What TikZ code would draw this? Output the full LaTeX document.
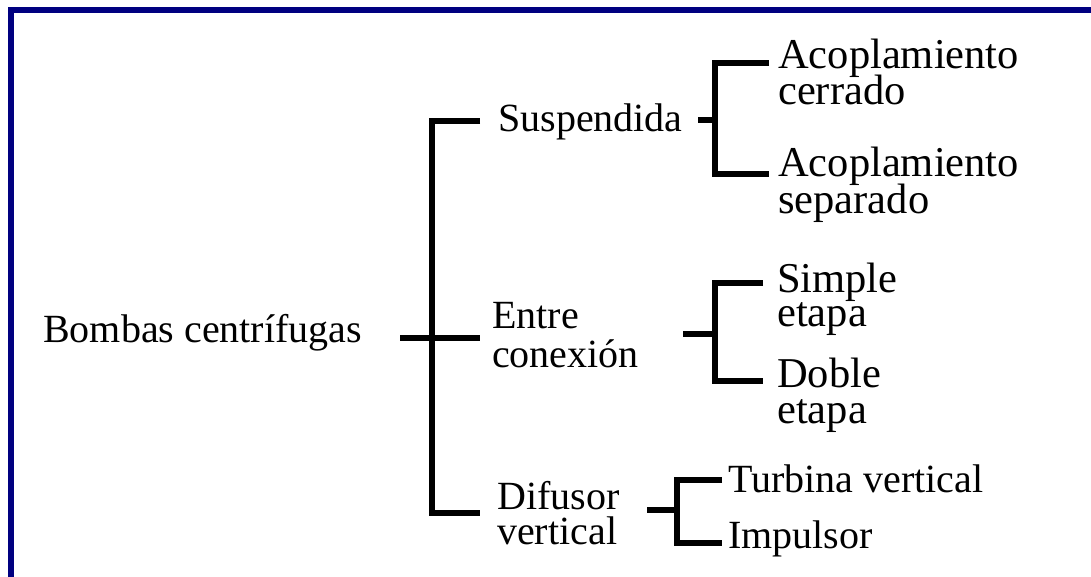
\documentclass[tikz,border=0pt]{standalone}
\usepackage{fontspec}
\setmainfont{Liberation Serif}
\definecolor{navyblue}{RGB}{0,0,128}
\newcommand\twoline[3]{\vtop{\baselineskip=#1pt\lineskiplimit=-100pt\hbox{#2}\hbox{#3}}}
\begin{document}
\begin{tikzpicture}[x=1pt,y=-1pt,
  lbl/.style={anchor=base west, inner sep=0pt, font=\fontsize{40}{40}\selectfont},
  lblb/.style={lbl, font=\fontsize{42.5}{42.5}\selectfont},
  br/.style={line width=5.5pt, line join=miter, black}]
\useasboundingbox (0,0) rectangle (1091,577);
\fill[navyblue] (8,7) rectangle (14,577);
\fill[navyblue] (8,7) rectangle (1091,13);
% labels
\node[lbl] (root) at (43,342) {Bombas centrífugas};
\node[lbl] (susp) at (498,132) {Suspendida};
\node[lbl] (entre) at (492,328) {\twoline{39}{Entre}{conexión}};
\node[lbl] (difu) at (497,509) {\twoline{35}{Difusor}{vertical}};
\node[lblb] (acc) at (778,69) {\twoline{36}{Acoplamiento}{cerrado}};
\node[lblb] (acs) at (778,177) {\twoline{37}{Acoplamiento}{separado}};
\node[lblb] (sim) at (777,292) {\twoline{34}{Simple}{etapa}};
\node[lblb] (dob) at (777,387) {\twoline{36}{Doble}{etapa}};
\node[lbl] (tur) at (728,492) {Turbina vertical};
\node[lbl] (imp) at (728,548) {Impulsor};
% bracket points
\coordinate (r0) at (400,338);
\coordinate (a1) at (480,121);
\coordinate (a2) at (480,338);
\coordinate (a3) at (480,513);
\coordinate (s0) at (698,120);
\coordinate (s1) at (769,63);
\coordinate (s2) at (769,174);
\coordinate (e0) at (683,334);
\coordinate (e1) at (763,283);
\coordinate (e2) at (763,381);
\coordinate (d0) at (647,510);
\coordinate (d1) at (722,480);
\coordinate (d2) at (722,543);
% brackets
\draw[br] (a1) -- (432,121) -- (432,513) -- (a3);
\draw[br] (r0) -- (a2);
\draw[br] (s1) -- (715,63) -- (715,174) -- (s2);
\draw[br] (s0) -- (715,120);
\draw[br] (e1) -- (715,283) -- (715,381) -- (e2);
\draw[br] (e0) -- (715,334);
\draw[br] (d1) -- (677,480) -- (677,543) -- (d2);
\draw[br] (d0) -- (677,510);
\end{tikzpicture}
\end{document}
